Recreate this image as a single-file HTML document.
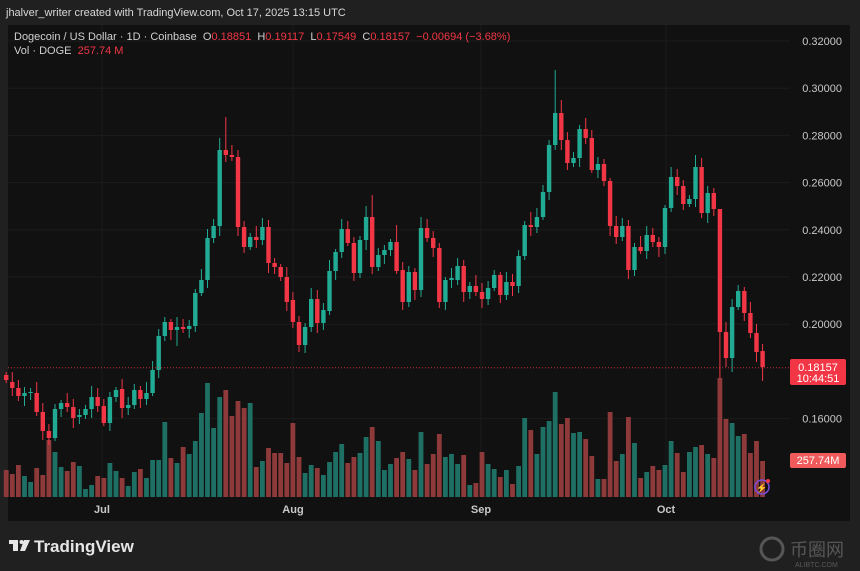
<!DOCTYPE html>
<html><head><meta charset="utf-8">
<style>
html,body{margin:0;padding:0;background:#202020;width:860px;height:571px;overflow:hidden;font-family:"Liberation Sans",sans-serif;}
#wrap{position:relative;width:860px;height:571px;}
.t{position:absolute;white-space:nowrap;}
</style></head><body><div id="wrap">
<svg id="s" width="860" height="571" style="position:absolute;left:0;top:0" xmlns="http://www.w3.org/2000/svg">
<rect x="0" y="0" width="860" height="571" fill="#202020"/>
<rect x="8" y="25" width="842" height="496" fill="#111111"/>
<g id="grid"></g><g id="vol"></g><g id="cnd"></g>
<line x1="8" y1="367.7" x2="790" y2="367.7" stroke="#f23645" stroke-width="1" stroke-dasharray="1,2" opacity="0.8"/>
<g font-family="Liberation Sans, sans-serif" font-size="11" fill="#c8c8c8" id="axis"></g>
<rect x="790" y="359" width="56" height="26" rx="2" fill="#f23645"/>
<text x="818" y="371" font-family="Liberation Sans, sans-serif" font-size="11" fill="#fff" text-anchor="middle">0.18157</text>
<text x="818" y="382" font-family="Liberation Sans, sans-serif" font-size="11" fill="#fff" text-anchor="middle">10:44:51</text>
<rect x="790" y="453" width="56" height="15" rx="2" fill="#f05a5a"/>
<text x="818" y="464" font-family="Liberation Sans, sans-serif" font-size="11" fill="#fff" text-anchor="middle">257.74M</text>
<g font-family="Liberation Sans, sans-serif" font-size="11" fill="#c8c8c8" font-weight="bold" text-anchor="middle">
<text x="102" y="513">Jul</text><text x="293" y="513">Aug</text><text x="481" y="513">Sep</text><text x="666" y="513">Oct</text></g>
<circle cx="762" cy="487" r="7" fill="none" stroke="#7a4ce0" stroke-width="1.5"/>
<text x="762" y="491" font-size="9" fill="#9b6bff" text-anchor="middle">⚡</text>
<circle cx="768" cy="481" r="2" fill="#f23645"/>
<g transform="translate(9,538)" fill="#e6e6e6">
<rect x="0" y="2" width="9" height="4"/><rect x="4" y="2" width="5" height="11"/><circle cx="12.5" cy="4" r="2"/><polygon points="15,2 21,2 16,13 11,13"/>
</g>
<text x="34" y="552" font-family="Liberation Sans, sans-serif" font-size="17" font-weight="bold" fill="#e6e6e6">TradingView</text>
<g opacity="0.35"><circle cx="772" cy="549" r="11" fill="none" stroke="#bbb" stroke-width="3"/>
<text x="790" y="556" font-family="Noto Sans CJK SC, sans-serif" font-size="18" fill="#bbb">币圈网</text>
<text x="795" y="567" font-size="7" fill="#bbb" font-family="Liberation Sans, sans-serif">ALIBTC.COM</text></g>
</svg>
<div class="t" style="left:6px;top:7px;font-size:11px;color:#d8d8d8">jhalver_writer created with TradingView.com, Oct 17, 2025 13:15 UTC</div>
<div class="t" style="left:14px;top:31px;font-size:11px;color:#d0d0d0">Dogecoin / US Dollar · 1D · Coinbase &nbsp;O<span style="color:#f23645">0.18851</span> &nbsp;H<span style="color:#f23645">0.19117</span> &nbsp;L<span style="color:#f23645">0.17549</span> &nbsp;C<span style="color:#f23645">0.18157 &nbsp;−0.00694 (−3.68%)</span></div>
<div class="t" style="left:14px;top:45px;font-size:11px;color:#d0d0d0">Vol · DOGE &nbsp;<span style="color:#f23645">257.74 M</span></div>
</div>
<script>
(function(){
var NS="http://www.w3.org/2000/svg";
function el(p,t,a){var e=document.createElementNS(NS,t);for(var q in a)e.setAttribute(q,a[q]);document.getElementById(p).appendChild(e);return e;}
var oc=[[375,380],[382,388],[388,396],[396,393],[393,392],[393,412],[412,431],[431,438],[438,409],[409,403],[403,407],[407,418],[417,415],[415,409],[409,397],[397,406],[406,423],[423,397],[397,390],[389,408],[408,405],[405,390],[390,399],[399,393],[393,370],[370,336],[336,322],[322,330],[330,327],[327,329],[329,326],[326,293],[293,280],[280,238],[238,226],[226,150],[150,155],[155,157],[157,227],[227,247],[247,237],[237,240],[240,227],[227,263],[263,267],[267,277],[277,302],[300,322],[322,345],[345,327],[327,299],[299,323],[323,310],[311,271],[271,252],[252,229],[229,243],[243,273],[273,240],[240,217],[217,267],[267,255],[255,250],[250,242],[242,271],[270,302],[302,272],[272,290],[290,228],[228,238],[238,248],[248,302],[302,280],[280,278],[280,266],[266,292],[292,286],[286,292],[292,299],[299,288],[288,275],[275,295],[295,282],[282,286],[286,256],[256,225],[225,227],[227,217],[217,192],[192,145],[145,113],[113,140],[140,163],[163,158],[158,129],[129,138],[138,170],[170,164],[164,181],[181,226],[226,237],[237,226],[226,270],[270,247],[247,251],[251,235],[235,242],[242,247],[247,208],[208,177],[177,186],[186,204],[204,199],[199,167],[167,213],[213,193],[193,209],[209,332],[332,358],[358,307],[307,291],[291,313],[313,333],[333,352],[351,367]];
var vt=[470,474,465,476,482,468,475,440,452,467,471,462,466,489,485,476,478,463,471,478,486,472,469,478,460,460,422,458,463,447,454,441,413,383,428,397,390,416,401,408,403,467,461,448,453,453,463,423,457,473,465,468,475,462,452,444,463,457,453,437,427,441,470,464,458,452,459,470,432,464,454,434,457,454,464,455,485,483,452,464,469,477,470,484,466,418,430,454,427,421,392,424,418,433,432,439,456,479,479,412,461,454,417,443,478,472,466,470,465,441,453,472,452,447,445,454,458,378,419,423,436,434,453,441,461];
var hi={35:138,36:117,38:150,60:195,89:140,90:70,91:100,86:212,113:155,117:215,96:130,64:225,53:260};
var lo={117:378,119:372,124:381,7:445,48:352,72:310,28:346};
var prices=[0.32,0.30,0.28,0.26,0.24,0.22,0.20,0.16];
prices.forEach(function(p){var y=41+(0.32-p)*2360;el("grid","line",{x1:8,x2:790,y1:y,y2:y,stroke:"#1c1c1c","stroke-width":1});
var t=el("axis","text",{x:842,y:y+4,"text-anchor":"end"});t.textContent=p.toFixed(5);});
[102,293,481,666].forEach(function(x){el("grid","line",{x1:x,x2:x,y1:25,y2:497,stroke:"#1c1c1c","stroke-width":1});});
for(var k=0;k<oc.length;k++){
 var x=6.2+6.1*k,o=oc[k][0],c=oc[k][1],up=c<o||(c==o&&k%2==0);
 var col=up?"#22ab94":"#f23645",vcol=up?"#1f7064":"#8e3a3a";
 var bt=Math.min(o,c),bb=Math.max(o,c);
 var hh=hi[k]!==undefined?hi[k]:bt-(3+(k*7)%9);
 var ll=lo[k]!==undefined?lo[k]:bb+(3+(k*5)%8);
 if(vt[k]!==undefined)el("vol","rect",{x:x-2.4,y:vt[k],width:4.8,height:497-vt[k],fill:vcol});
 el("cnd","line",{x1:x,x2:x,y1:hh,y2:ll,stroke:col,"stroke-width":1});
 el("cnd","rect",{x:x-2.2,y:bt,width:4.4,height:Math.max(1,bb-bt),fill:col});
}
})();
</script>
</body></html>
